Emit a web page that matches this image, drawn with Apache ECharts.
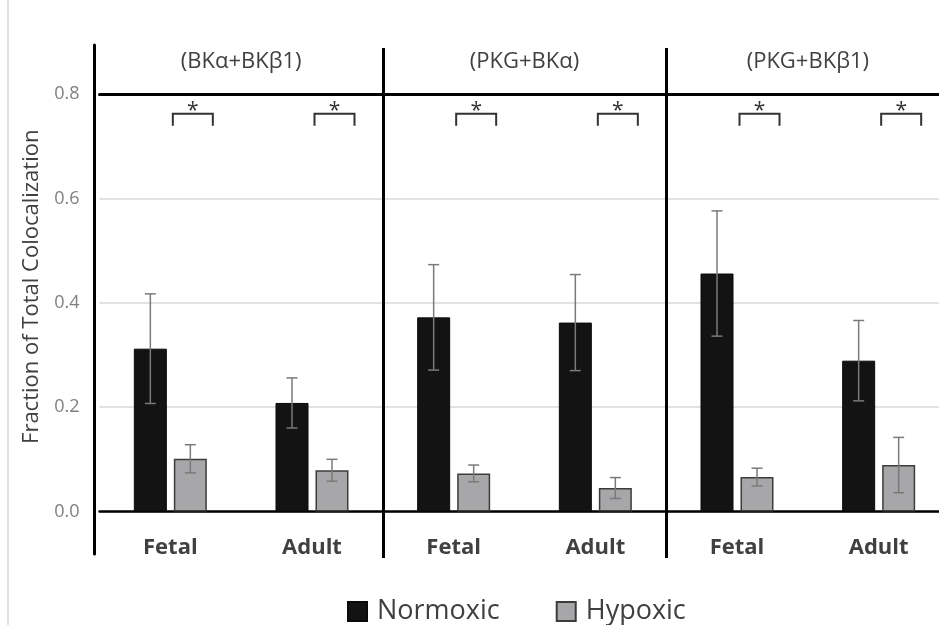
<!DOCTYPE html>
<html>
<head>
<meta charset="utf-8">
<script src="https://cdn.jsdelivr.net/npm/echarts@6/dist/echarts.min.js"></script>
<style>
html,body{margin:0;padding:0;background:#fff;}
#chart{width:939px;height:625px;}
</style>
</head>
<body>
<div id="chart"></div>
<script>
// ---- data ----
const categories = ['Fetal', 'Adult', 'Fetal', 'Adult', 'Fetal', 'Adult'];
const panels = ['(BKα+BKβ1)', '(PKG+BKα)', '(PKG+BKβ1)'];
const normoxic = [0.312, 0.208, 0.372, 0.362, 0.456, 0.289];
const normoxicErr = [0.105, 0.048, 0.101, 0.092, 0.120, 0.077];
const hypoxic = [0.101, 0.079, 0.073, 0.045, 0.066, 0.089];
const hypoxicErr = [0.027, 0.021, 0.016, 0.020, 0.017, 0.053];
const significance = ['*', '*', '*', '*', '*', '*'];
const sigLevel = [0.762, 0.762, 0.762, 0.762, 0.762, 0.762];
const yTicks = [0, 0.2, 0.4, 0.6, 0.8];

const FONT = '"Open Sans", "Liberation Sans", sans-serif';
const BAR_W = 33, BAR_GAP = 7;
const OFF = (BAR_W + BAR_GAP) / 2;

const chart = echarts.init(document.getElementById('chart'), null, {renderer: 'canvas'});

function errorRender(offset) {
  return function (params, api) {
    const i = api.value(0);
    const pLo = api.coord([i, api.value(1)]);
    const pHi = api.coord([i, api.value(2)]);
    const x = pLo[0] + offset;
    const cap = 5.5;
    const st = {stroke: '#7a7a7a', lineWidth: 1.5};
    return {
      type: 'group',
      children: [
        {type: 'line', shape: {x1: x, y1: pLo[1], x2: x, y2: pHi[1]}, style: st},
        {type: 'line', shape: {x1: x - cap, y1: pLo[1], x2: x + cap, y2: pLo[1]}, style: st},
        {type: 'line', shape: {x1: x - cap, y1: pHi[1], x2: x + cap, y2: pHi[1]}, style: st}
      ]
    };
  };
}

const option = {
  animation: false,
  backgroundColor: '#ffffff',
  textStyle: {fontFamily: FONT},
  grid: [
    {left: 99.5, top: 94, width: 850, height: 417.5, outerBoundsMode: 'none'},
    {left: 94, top: 45, width: 10, height: 509, outerBoundsMode: 'none'},
    {left: 99.5, top: 48, width: 850, height: 510, outerBoundsMode: 'none'},
    {left: 8, top: 0, width: 10, height: 625, outerBoundsMode: 'none'}
  ],
  legend: {
    data: ['Normoxic', 'Hypoxic'],
    left: 342, top: 593,
    icon: 'rect', itemWidth: 19, itemHeight: 19, itemGap: 56,
    textStyle: {fontFamily: FONT, fontSize: 27, color: '#404040', padding: [0, 0, 0, 5]}
  },
  xAxis: [
    {
      gridIndex: 0, type: 'category', data: categories,
      axisLine: {lineStyle: {color: '#000', width: 2.5}},
      axisTick: {show: false},
      axisLabel: {fontFamily: FONT, fontSize: 22, fontWeight: 'bold', color: '#404040', margin: 25}
    },
    {
      gridIndex: 0, type: 'category', data: panels, position: 'top',
      axisLine: {lineStyle: {color: '#000', width: 3}},
      axisTick: {show: false},
      axisLabel: {fontFamily: FONT, fontSize: 22, color: '#404040', margin: 21}
    },
    {gridIndex: 1, type: 'value', show: false, min: 0, max: 1},
    {
      gridIndex: 2, type: 'value', min: 0, max: 3, interval: 1,
      axisLine: {show: false}, axisTick: {show: false}, axisLabel: {show: false},
      splitLine: {show: true, lineStyle: {color: ['rgba(0,0,0,0)', '#000', '#000', 'rgba(0,0,0,0)'], width: 3}}
    },
    {gridIndex: 3, type: 'value', show: false, min: 0, max: 1}
  ],
  yAxis: [
    {
      gridIndex: 0, type: 'value', min: yTicks[0], max: yTicks[yTicks.length - 1], interval: 0.2,
      axisLine: {show: false}, axisTick: {show: false},
      axisLabel: {fontFamily: FONT, fontSize: 18, color: '#7f7f7f', margin: 20,
        formatter: v => v.toFixed(1)},
      splitLine: {lineStyle: {color: '#d9d9d9', width: 1.5}},
      name: 'Fraction of Total Colocalization',
      nameLocation: 'middle', nameGap: 57, nameRotate: 90,
      nameTextStyle: {fontFamily: FONT, fontSize: 22, color: '#404040', padding: [0, 0, 0, 32]}
    },
    {
      gridIndex: 1, type: 'value', min: 0, max: 1,
      axisLine: {show: true, lineStyle: {color: '#000', width: 3}},
      axisTick: {show: false}, axisLabel: {show: false}, splitLine: {show: false}
    },
    {gridIndex: 2, type: 'value', show: false, min: 0, max: 1},
    {
      gridIndex: 3, type: 'value', min: 0, max: 1,
      axisLine: {show: true, lineStyle: {color: '#d9d9d9', width: 1.5}},
      axisTick: {show: false}, axisLabel: {show: false}, splitLine: {show: false}
    }
  ],
  series: [
    {
      name: 'Normoxic', type: 'bar', xAxisIndex: 0, yAxisIndex: 0,
      data: normoxic, barWidth: BAR_W, barGap: (BAR_GAP / BAR_W * 100).toFixed(1) + '%',
      itemStyle: {color: '#131313', borderColor: '#0a0a0a', borderWidth: 1}
    },
    {
      name: 'Hypoxic', type: 'bar', xAxisIndex: 0, yAxisIndex: 0,
      data: hypoxic, barWidth: BAR_W,
      itemStyle: {color: '#a7a7a9', borderColor: '#3c3c3c', borderWidth: 1.5}
    },
    {
      type: 'custom', xAxisIndex: 0, yAxisIndex: 0, z: 5,
      data: normoxic.map((v, i) => [i, v - normoxicErr[i], v + normoxicErr[i]]),
      renderItem: errorRender(-OFF)
    },
    {
      type: 'custom', xAxisIndex: 0, yAxisIndex: 0, z: 5,
      data: hypoxic.map((v, i) => [i, v - hypoxicErr[i], v + hypoxicErr[i]]),
      renderItem: errorRender(OFF)
    },
    {
      type: 'custom', xAxisIndex: 0, yAxisIndex: 0, z: 6, clip: false,
      data: sigLevel.map((v, i) => [i, v]),
      renderItem: function (params, api) {
        const i = api.value(0);
        const p = api.coord([i, api.value(1)]);
        const cx = p[0] + OFF + 2.5, half = 20, leg = 12;
        return {
          type: 'group',
          children: [
            {type: 'polyline', shape: {points: [[cx - half, p[1] + leg], [cx - half, p[1]], [cx + half, p[1]], [cx + half, p[1] + leg]]},
              style: {stroke: '#333', lineWidth: 2, fill: null}},
            {type: 'text', style: {text: significance[i], x: cx, y: p[1] - 3, align: 'center', verticalAlign: 'middle',
              font: '21px ' + FONT, fill: '#333'}}
          ]
        };
      }
    }
  ]
};
chart.setOption(option);
</script>
</body>
</html>
